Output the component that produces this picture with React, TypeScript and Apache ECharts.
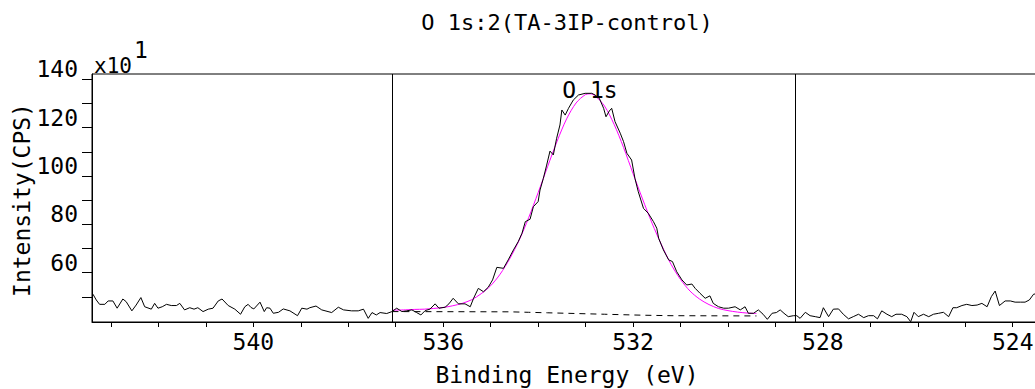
import React, { useEffect, useRef } from "react";
import * as echarts from "echarts";

// Binding energy (eV) and intensity (x10 CPS) of the measured spectrum
const energy = [
  543.38, 543.31, 543.24, 543.13, 543.06, 542.96, 542.87, 542.75, 542.68, 542.56,
  542.47, 542.37, 542.29, 542.15, 542.08, 542.01, 541.92, 541.83, 541.73, 541.62,
  541.55, 541.45, 541.34, 541.25, 541.17, 541.06, 540.95, 540.85, 540.74, 540.66,
  540.53, 540.39, 540.27, 540.18, 540.11, 540.05, 539.99, 539.86, 539.77, 539.72,
  539.65, 539.58, 539.47, 539.37, 539.23, 539.07, 538.98, 538.87, 538.81, 538.68,
  538.56, 538.35, 538.21, 538.1, 537.93, 537.79, 537.68, 537.58, 537.5, 537.41,
  537.33, 537.19, 537.08, 536.98, 536.87, 536.77, 536.66, 536.56, 536.47, 536.38,
  536.28, 536.17, 536.09, 535.96, 535.88, 535.79, 535.68, 535.54, 535.43, 535.36,
  535.26, 535.15, 535.05, 534.96, 534.87, 534.73, 534.63, 534.52, 534.42, 534.34,
  534.27, 534.17, 534.1, 534.0, 533.96, 533.89, 533.82, 533.75, 533.68, 533.61,
  533.54, 533.5, 533.43, 533.36, 533.26, 533.15, 533.01, 532.87, 532.8, 532.71,
  532.62, 532.57, 532.5, 532.45, 532.38, 532.27, 532.2, 532.13, 532.03, 531.96,
  531.89, 531.78, 531.68, 531.57, 531.5, 531.46, 531.36, 531.25, 531.17, 531.08,
  530.97, 530.87, 530.76, 530.69, 530.59, 530.48, 530.38, 530.31, 530.2, 530.09,
  529.99, 529.85, 529.74, 529.64, 529.57, 529.46, 529.36, 529.26, 529.17, 529.07,
  528.98, 528.9, 528.82, 528.73, 528.62, 528.55, 528.48, 528.37, 528.27, 528.16,
  528.06, 527.99, 527.88, 527.78, 527.67, 527.57, 527.46, 527.36, 527.25, 527.14,
  527.04, 526.93, 526.85, 526.76, 526.65, 526.55, 526.46, 526.34, 526.23, 526.15,
  526.08, 525.99, 525.88, 525.77, 525.67, 525.56, 525.46, 525.35, 525.26, 525.18,
  525.07, 524.97, 524.86, 524.75, 524.65, 524.54, 524.45, 524.37, 524.28, 524.16,
  524.05, 523.95, 523.84, 523.74, 523.65, 523.56, 523.4,
];
const counts = [
  51.1, 48.7, 46.9, 46.9, 48.3, 48.3, 45.3, 49.1, 48.0, 44.2,
  46.6, 49.7, 45.9, 44.9, 47.3, 45.3, 45.9, 46.9, 46.4, 46.4,
  47.3, 44.6, 45.5, 44.9, 45.5, 43.9, 44.9, 45.3, 48.3, 49.1,
  46.4, 44.9, 42.8, 45.9, 46.9, 45.6, 45.0, 47.8, 43.9, 45.5,
  45.3, 43.2, 43.6, 45.0, 44.2, 42.2, 45.3, 44.9, 45.5, 46.2,
  44.6, 43.5, 45.7, 44.6, 44.2, 44.2, 44.9, 41.1, 43.5, 42.5,
  43.5, 43.1, 43.9, 45.3, 43.9, 44.2, 44.6, 43.5, 42.5, 44.3,
  44.9, 47.1, 45.3, 45.7, 47.1, 49.4, 47.1, 47.1, 45.9, 49.4,
  53.5, 52.1, 54.0, 57.0, 62.2, 61.8, 65.3, 69.4, 72.8, 76.3,
  81.1, 82.1, 87.3, 89.4, 94.2, 99.0, 104.5, 110.3, 108.7, 115.6,
  121.1, 127.3, 125.2, 128.0, 131.4, 133.5, 134.2, 134.2, 133.5, 132.1,
  128.0, 124.5, 126.9, 128.0, 122.5, 117.7, 114.2, 109.4, 106.6, 99.0,
  93.5, 86.6, 84.6, 81.1, 78.4, 74.2, 69.4, 65.3, 64.6, 60.4,
  57.0, 54.9, 55.3, 53.5, 51.5, 49.4, 50.4, 47.3, 45.9, 45.3,
  45.3, 45.9, 44.6, 45.9, 43.2, 43.2, 44.6, 42.8, 40.7, 43.2,
  43.5, 44.6, 43.2, 41.8, 42.2, 42.2, 41.1, 43.6, 42.2, 41.8,
  41.4, 45.5, 41.8, 44.9, 45.0, 42.8, 40.9, 41.8, 42.8, 41.4,
  42.2, 42.2, 40.9, 44.2, 42.8, 41.8, 42.8, 42.8, 41.8, 39.7,
  43.6, 41.8, 42.8, 41.8, 42.8, 43.2, 43.6, 41.8, 45.5, 45.5,
  46.4, 46.9, 46.4, 46.6, 47.3, 45.9, 50.1, 52.4, 46.4, 48.3,
  48.3, 47.8, 47.8, 47.8, 48.7, 51.1, 51.5,
];

// Fitted O 1s component (magenta)
const fitEnergy = [
  537.07, 536.8, 536.6, 536.4, 536.2, 536.0, 535.8, 535.6, 535.4, 535.2,
  535.0, 534.8, 534.6, 534.4, 534.2, 534.0, 533.8, 533.6, 533.4, 533.2,
  533.0, 532.9, 532.8, 532.6, 532.4, 532.2, 532.0, 531.8, 531.6, 531.4,
  531.2, 531.0, 530.8, 530.6, 530.4, 530.2, 530.0, 529.8, 529.6, 529.4,
];
const fitCounts = [
  44.5, 44.6, 44.8, 44.9, 45.2, 45.6, 46.3, 47.3, 48.8, 51.3,
  54.6, 59.4, 65.7, 73.4, 82.7, 93.1, 103.9, 114.4, 123.6, 130.2,
  133.7, 134.0, 133.2, 128.9, 121.4, 111.8, 101.0, 90.5, 80.5, 71.5,
  63.5, 57.2, 52.4, 49.1, 46.8, 45.2, 44.3, 43.7, 43.3, 43.1,
];

// Background (dashed)
const bgEnergy = [537.07, 534.6, 534.2, 533.8, 533.4, 533.0, 532.6, 532.2, 531.8, 531.2, 529.4];
const bgCounts = [43.9, 43.8, 43.6, 43.4, 43.2, 43.0, 42.8, 42.6, 42.4, 42.2, 42.1];

// Region markers
const regionMarkers = [537.07, 528.58];

// Axis ticks & labels
const xTickValues = [524, 525, 526, 527, 528, 529, 530, 531, 532, 533, 534, 535, 536, 537, 538, 539, 540, 541, 542, 543];
const xLabelValues = [524, 528, 532, 536, 540];
const yTickValues = [50, 60, 70, 80, 90, 100, 110, 120, 130, 140];
const yLabelValues = [60, 80, 100, 120, 140];

const FONT = "DejaVu Sans Mono";

export default function App() {
  const ref = useRef<HTMLDivElement>(null);

  useEffect(() => {
    if (!ref.current) return;
    const chart = echarts.init(ref.current, null, { renderer: "svg" });
    const pairs = (xs: number[], ys: number[]) => xs.map((x, i) => [x, ys[i]]);

    chart.setOption({
      animation: false,
      backgroundColor: "#fff",
      grid: {
        left: 92,
        top: 74,
        right: -10,
        bottom: 67,
        containLabel: false,
        outerBoundsMode: "none",
        show: true,
        borderColor: "#000",
        borderWidth: 1,
      },
      xAxis: {
        type: "value",
        inverse: true,
        min: 523.32,
        max: 543.4,
        axisLine: { show: true, lineStyle: { color: "#000", width: 1 } },
        axisTick: {
          show: true,
          customValues: xTickValues,
          length: 5,
          inside: false,
          lineStyle: { color: "#000", width: 1 },
        },
        axisLabel: {
          show: true,
          customValues: xLabelValues,
          color: "#000",
          fontFamily: FONT,
          fontSize: 23,
          margin: 8,
        },
        splitLine: { show: false },
      },
      yAxis: {
        type: "value",
        min: 39.59,
        max: 142.19,
        axisLine: { show: true, lineStyle: { color: "#000", width: 1 } },
        axisTick: {
          show: true,
          customValues: yTickValues,
          length: 10,
          inside: false,
          lineStyle: { color: "#000", width: 1 },
        },
        axisLabel: {
          show: true,
          customValues: yLabelValues,
          color: "#000",
          fontFamily: FONT,
          fontSize: 23,
          margin: 14,
          verticalAlign: "bottom",
          lineHeight: 20,
        },
        splitLine: { show: false },
      },
      graphic: [
        {
          type: "text",
          x: 567,
          y: 22,
          style: {
            text: "O 1s:2(TA-3IP-control)",
            fontFamily: FONT,
            fontSize: 22,
            fill: "#000",
            textAlign: "center",
            textVerticalAlign: "middle",
          },
        },
        {
          type: "text",
          x: 567,
          y: 375,
          style: {
            text: "Binding Energy (eV)",
            fontFamily: FONT,
            fontSize: 23,
            fill: "#000",
            textAlign: "center",
            textVerticalAlign: "middle",
          },
        },
        {
          type: "text",
          x: 22,
          y: 200,
          rotation: Math.PI / 2,
          style: {
            text: "Intensity(CPS)",
            fontFamily: FONT,
            fontSize: 23,
            fill: "#000",
            textAlign: "center",
            textVerticalAlign: "middle",
          },
        },
        {
          type: "text",
          x: 94,
          y: 66,
          style: {
            text: "x10",
            fontFamily: FONT,
            fontSize: 21,
            fill: "#000",
            textAlign: "left",
            textVerticalAlign: "middle",
          },
        },
        {
          type: "text",
          x: 134,
          y: 50,
          style: {
            text: "1",
            fontFamily: FONT,
            fontSize: 23,
            fill: "#000",
            textAlign: "left",
            textVerticalAlign: "middle",
          },
        },
        {
          type: "text",
          x: 590,
          y: 90,
          z: 100,
          style: {
            text: "O 1s",
            fontFamily: FONT,
            fontSize: 23,
            fill: "#000",
            textAlign: "center",
            textVerticalAlign: "middle",
          },
        },
      ],
      series: [
        {
          name: "background",
          type: "line",
          data: pairs(bgEnergy, bgCounts),
          showSymbol: false,
          symbol: "none",
          lineStyle: { color: "#000", width: 1, type: [6, 5] },
          z: 2,
        },
        {
          name: "fit",
          type: "line",
          data: pairs(fitEnergy, fitCounts),
          showSymbol: false,
          symbol: "none",
          smooth: 0.3,
          lineStyle: { color: "#ff00ff", width: 1 },
          z: 3,
        },
        {
          name: "spectrum",
          type: "line",
          data: pairs(energy, counts),
          showSymbol: false,
          symbol: "none",
          lineStyle: { color: "#000", width: 1 },
          z: 4,
          markLine: {
            silent: true,
            symbol: "none",
            label: { show: false },
            lineStyle: { color: "#000", width: 1, type: "solid" },
            data: regionMarkers.map((v) => ({ xAxis: v })),
          },
        },
      ],
    });

    return () => chart.dispose();
  }, []);

  return (
    <div
      ref={ref}
      style={{ position: "absolute", left: 0, top: 0, width: 1035, height: 389 }}
    />
  );
}
